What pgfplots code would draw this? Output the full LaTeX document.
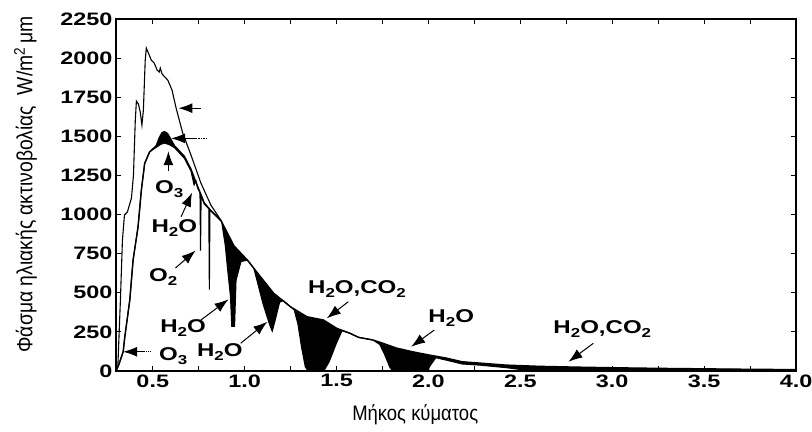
\documentclass[border=0pt]{standalone}
\usepackage{fontspec}
\setmainfont{Liberation Sans}
\newfontfamily\tickfont{Liberation Sans}[FakeStretch=1.3]
\newfontfamily\labfont{Liberation Sans}[FakeStretch=0.88]
\usepackage{pgfplots}
\usepackage{pgfplotstable}
\pgfplotsset{compat=1.18}
\usepgfplotslibrary{fillbetween}
\usetikzlibrary{arrows.meta}

\newcommand{\chem}[1]{{\tickfont\bfseries\fontsize{18.5}{18.5}\selectfont #1}}
\newcommand{\sub}[1]{\raisebox{-0.4ex}{\fontsize{13}{13}\selectfont #1}}
\tikzset{ann/.style={line width=1pt, -{Latex[length=14pt,width=10pt]}}}

% extraterrestrial spectrum (top jagged line)
\pgfplotstableread{
x y
0.310 30
0.324 454
0.335 837
0.346 997
0.362 1016
0.373 1061
0.384 1105
0.395 1252
0.405 1604
0.411 1725
0.422 1706
0.432 1655
0.441 1572
0.449 1668
0.459 1987
0.465 2064
0.481 2019
0.492 1987
0.508 1968
0.524 1923
0.535 1911
0.541 1936
0.551 1898
0.582 1859
0.605 1795
0.627 1681
0.663 1521
0.708 1380
0.762 1201
0.816 1061
0.870 965
}\exttab

% smooth envelope (upper edge of the absorption bands)
\pgfplotstableread{
x y
0.300 0
0.315 40
0.339 123
0.348 219
0.375 454
0.393 709
0.420 922
0.438 1157
0.456 1327
0.483 1401
0.505 1425
0.519 1440
0.535 1490
0.550 1522
0.564 1530
0.580 1518
0.600 1478
0.618 1440
0.638 1415
0.672 1372
0.708 1290
0.725 1238
0.744 1180
0.780 1075
0.816 1025
0.849 990
0.870 965
0.942 800
1.015 709
1.086 603
1.158 497
1.249 411
1.339 347
1.429 326
1.501 273
1.573 241
1.620 215
1.699 198
1.753 177
1.825 147
1.914 123
2.005 102
2.096 83
2.184 59
2.276 51
2.420 38
2.600 30
2.800 25
3.000 21
3.250 17
3.500 14
3.750 11
4.000 9
}\envtab

% sea level spectrum (lower edge of the absorption bands)
\pgfplotstableread{
x y
0.300 0
0.315 40
0.339 123
0.348 219
0.375 454
0.393 709
0.420 922
0.438 1157
0.456 1327
0.483 1401
0.519 1430
0.545 1450
0.565 1457
0.590 1447
0.618 1428
0.638 1403
0.672 1360
0.708 1278
0.725 1190
0.735 1215
0.744 1170
0.757 1140
0.760 770
0.763 1124
0.780 1068
0.805 1038
0.808 520
0.811 1030
0.849 984
0.875 955
0.895 800
0.906 666
0.923 475
0.930 285
0.945 285
0.953 580
0.980 700
1.015 709
1.050 657
1.100 430
1.135 300
1.150 255
1.165 320
1.190 440
1.210 450
1.249 411
1.270 390
1.290 300
1.310 150
1.330 27
1.345 0
1.430 0
1.460 60
1.500 180
1.530 258
1.573 241
1.620 215
1.699 198
1.735 170
1.760 110
1.789 27
1.800 8
2.000 8
2.005 27
2.040 85
2.096 70
2.184 45
2.276 38
2.420 22
2.500 10
2.600 6
2.800 5
3.000 7
3.250 9
3.500 10
3.750 9
4.000 8
}\seatab

\begin{document}
\begin{tikzpicture}
\begin{axis}[
    scale only axis,
    width=680pt, height=352pt,
    xmin=0.3, xmax=4.0,
    ymin=0, ymax=2250,
    xtick={0.5,1.0,...,4.0},
    minor xtick={0.75,1.25,...,3.75},
    ytick={0,250,...,2250},
    tick align=inside,
    major tick length=5pt, minor tick length=5pt,
    every tick/.style={black, line width=0.9pt},
    axis line style={line width=1.3pt},
    /pgf/number format/assume math mode=true,
    ticklabel style={font=\tickfont\bfseries\fontsize{18}{18}\selectfont},
    xticklabel style={/pgf/number format/.cd, fixed, fixed zerofill, precision=1},
    yticklabel style={/pgf/number format/.cd, 1000 sep={}},
    xlabel={Μήκος κύματος},
    ylabel={Φάσμα ηλιακής ακτινοβολίας\ \ W/m\textsuperscript{2}\,μm},
    every axis x label/.style={at={(axis description cs:0.44,-0.123)}, anchor=center,
        font=\labfont\fontsize{21}{21}\selectfont},
    every axis y label/.style={at={(axis description cs:-0.133,0.53)}, anchor=center,
        rotate=90, font=\labfont\fontsize{22}{22}\selectfont},
]
\addplot[name path=top, black, line width=1.4pt] table {\envtab};
\addplot[name path=sea, black, line width=1.1pt] table {\seatab};
\addplot[black] fill between[of=top and sea];
\addplot[black, line width=1.1pt] table {\exttab};

% unlabelled pointers to the upper curves
\draw[ann] (axis cs:0.760,1680) -- (axis cs:0.640,1680);
\draw[ann] (axis cs:0.740,1487) -- (axis cs:0.600,1487);
\draw[densely dotted, line width=0.6pt] (axis cs:0.745,1487) -- (axis cs:0.79,1487);

% absorbers
\draw[ann] (axis cs:0.585,1280) -- (axis cs:0.585,1405);
\node at (axis cs:0.589,1163) {\chem{O\sub{3}}};
\draw[ann] (axis cs:0.654,986) -- (axis cs:0.714,1140);
\node at (axis cs:0.617,914) {\chem{H\sub{2}O}};
\draw[ann] (axis cs:0.623,658) -- (axis cs:0.733,770);
\node at (axis cs:0.557,600) {\chem{O\sub{2}}};
\draw[ann] (axis cs:0.762,326) -- (axis cs:0.912,458);
\node at (axis cs:0.665,275) {\chem{H\sub{2}O}};
\draw[ann] (axis cs:0.978,177) -- (axis cs:1.123,315);
\node at (axis cs:0.865,121) {\chem{H\sub{2}O}};
\draw[ann] (axis cs:0.460,123) -- (axis cs:0.339,123);
\draw[densely dotted, line width=0.6pt] (axis cs:0.465,123) -- (axis cs:0.49,123);
\node at (axis cs:0.611,96) {\chem{O\sub{3}}};
\draw[ann] (axis cs:1.564,443) -- (axis cs:1.447,337);
\node at (axis cs:1.611,524) {\chem{H\sub{2}O,CO\sub{2}}};
\draw[ann] (axis cs:2.032,262) -- (axis cs:1.906,155);
\node at (axis cs:2.124,339) {\chem{H\sub{2}O}};
\draw[ann] (axis cs:2.897,177) -- (axis cs:2.762,59);
\node at (axis cs:2.946,268) {\chem{H\sub{2}O,CO\sub{2}}};

\coordinate (bl) at (axis description cs:-0.1706,-0.173);
\coordinate (tr) at (axis description cs:1.0235,1.054);
\end{axis}
\pgfresetboundingbox
\useasboundingbox (bl) rectangle (tr);
\end{tikzpicture}
\end{document}
